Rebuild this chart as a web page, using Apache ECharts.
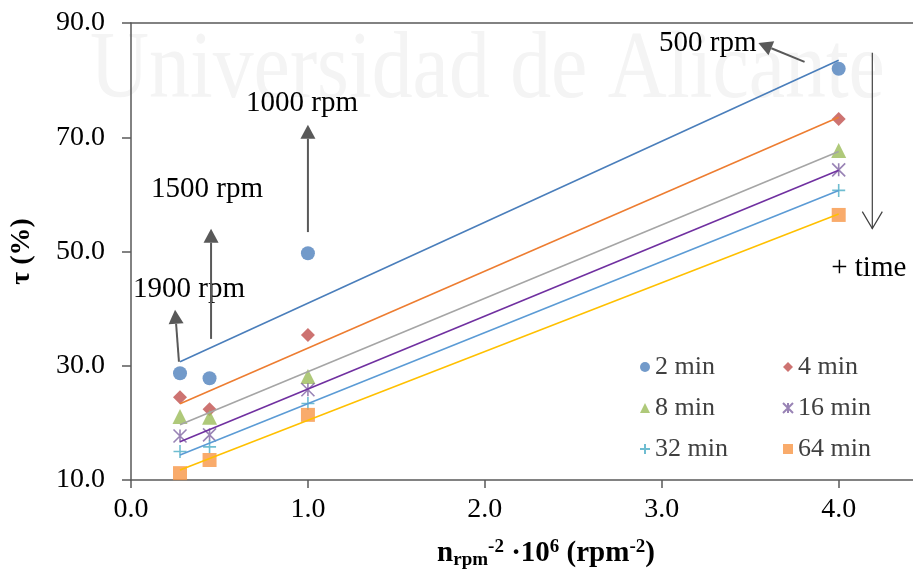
<!DOCTYPE html>
<html><head><meta charset="utf-8">
<script src="https://cdn.jsdelivr.net/npm/echarts@6/dist/echarts.min.js"></script>
<style>html,body{margin:0;padding:0;background:#fff}#c{width:913px;height:576px}</style>
</head><body><div id="c"></div>
<script>
// ---- data ----
const xValues = [0.277, 0.444, 1.0, 4.0];          // n^-2 * 1e6 for 1900, 1500, 1000, 500 rpm
const seriesNames = ['2 min', '4 min', '8 min', '16 min', '32 min', '64 min'];
const tau2  = [28.7, 27.8, 49.7, 82.0];
const tau4  = [24.5, 22.4, 35.4, 73.2];
const tau8  = [21.1, 21.0, 28.1, 67.7];
const tau16 = [17.7, 17.9, 25.8, 64.3];
const tau32 = [15.0, 15.8, 23.4, 60.7];
const tau64 = [11.2, 13.5, 21.4, 56.4];
const xTicks = [0, 1, 2, 3, 4];
const yTicks = [10, 30, 50, 70, 90];
const annotationTexts = ['500 rpm', '1000 rpm', '1500 rpm', '1900 rpm', '+ time'];

// ---- layout / styling (not data) ----
const allTau = [tau2, tau4, tau8, tau16, tau32, tau64];
const markerColors = ['#4F81BD', '#C0504D', '#9BBB59', '#8064A2', '#4BACC6', '#F79646'];
const lineColors = ['#4A7EBB', '#ED7D31', '#A5A5A5', '#7030A0', '#5B9BD5', '#FFC000'];
const symbols = ['circle', 'diamond', 'triangle',
  'path://M0,0L10,10M10,0L0,10M5,0L5,10',
  'path://M5,0L5,10M0,5L10,5',
  'rect'];
const symbolSizes = [14, 14, 15, 13, 13, 14];
const FONT = '"Liberation Serif", "Times New Roman", serif';
// annotation positions in data coordinates
const annotationPos = [[3.26, 86.5], [0.967, 76.0], [0.43, 60.8], [0.328, 43.3], [4.17, 47.1]];
const arrows = [
  [[3.807, 83.2], [3.546, 86.5]],
  [[1.0, 53.4], [1.0, 72.2]],
  [[0.4525, 34.7], [0.4525, 54.0]],
  [[0.271, 30.7], [0.249, 39.8]]
];
const timeArrow = [[4.19, 84.8], [4.19, 54.0]];

function linReg(xs, ys) {
  const n = xs.length;
  const mx = xs.reduce((a, b) => a + b, 0) / n;
  const my = ys.reduce((a, b) => a + b, 0) / n;
  let sxy = 0, sxx = 0;
  for (let i = 0; i < n; i++) { sxy += (xs[i] - mx) * (ys[i] - my); sxx += (xs[i] - mx) ** 2; }
  const b = sxy / sxx;
  return [b, my - b * mx];
}

const xMin = Math.min(...xValues), xMax = Math.max(...xValues);
const series = [];
allTau.forEach((ys, i) => {
  const isStroke = i === 3 || i === 4;
  series.push({
    name: seriesNames[i], type: 'scatter', z: 2,
    symbol: symbols[i], symbolSize: symbolSizes[i],
    itemStyle: isStroke ? { color: 'rgba(0,0,0,0)', borderColor: markerColors[i], borderWidth: 1.6 }
                        : { color: markerColors[i] },
    data: xValues.map((x, k) => [x, ys[k]])
  });
});
allTau.forEach((ys, i) => {
  const [b, a] = linReg(xValues, ys);
  series.push({
    name: 'trend ' + seriesNames[i], type: 'line', z: 3, silent: true,
    symbol: 'none', lineStyle: { color: lineColors[i], width: 1.6 },
    data: [[xMin, a + b * xMin], [xMax, a + b * xMax]]
  });
});

const chart = echarts.init(document.getElementById('c'), null, { renderer: 'canvas' });
const legendCommon = {
  orient: 'vertical', itemWidth: 10, itemHeight: 10, itemGap: 15,
  textStyle: { fontFamily: FONT, fontSize: 26, color: '#404040', lineHeight: 26 }
};
chart.setOption({
  backgroundColor: '#fff',
  animation: false,
  grid: { left: 131, right: 0, top: 23, bottom: 96, containLabel: false },
  legend: [
    Object.assign({ data: ['2 min', '8 min', '32 min'], left: 634, top: 349 }, legendCommon),
    Object.assign({ data: ['4 min', '16 min', '64 min'], left: 777, top: 349 }, legendCommon)
  ],
  xAxis: [{
    type: 'value', min: 0, max: 4.42,
    name: '{n|n}{sub|rpm}{sup|-2}{n| ·10}{sup|6}{n| (rpm}{sup|-2}{n|)}',
    nameLocation: 'middle', nameGap: 58,
    nameTextStyle: {
      padding: [0, 0, 0, 48],
      rich: {
        n: { fontFamily: FONT, fontWeight: 'bold', fontSize: 29, color: '#000', lineHeight: 32 },
        sub: { fontFamily: FONT, fontWeight: 'bold', fontSize: 19, color: '#000', lineHeight: 19, verticalAlign: 'bottom' },
        sup: { fontFamily: FONT, fontWeight: 'bold', fontSize: 19, color: '#000', lineHeight: 19, verticalAlign: 'top' }
      }
    },
    axisLine: { lineStyle: { color: '#595959', width: 1.5 } },
    axisTick: { show: true, length: 8, customValues: xTicks, lineStyle: { color: '#595959', width: 1.5 } },
    axisLabel: { customValues: xTicks, formatter: v => v.toFixed(1), fontFamily: FONT, fontSize: 28, color: '#000', margin: 16 },
    splitLine: { show: false }
  }, {
    type: 'value', position: 'top', min: 0, max: 4.42,
    axisLine: { show: true, lineStyle: { color: '#595959', width: 1.5 } },
    axisTick: { show: false }, axisLabel: { show: false }, splitLine: { show: false }
  }],
  yAxis: {
    type: 'value', min: 10, max: 90,
    name: 'τ (%)', nameLocation: 'middle', nameGap: 95, nameRotate: 90,
    nameTextStyle: { fontFamily: FONT, fontWeight: 'bold', fontSize: 28, color: '#000' },
    axisLine: { show: true, lineStyle: { color: '#595959', width: 1.5 } },
    axisTick: { show: true, length: 9, customValues: yTicks, lineStyle: { color: '#595959', width: 1.5 } },
    axisLabel: { customValues: yTicks, formatter: v => v.toFixed(1), fontFamily: FONT, fontSize: 28, color: '#000', margin: 26 },
    splitLine: { show: false }
  },
  series: series
});

// annotations positioned through the chart's scales
const px = p => chart.convertToPixel({ gridIndex: 0 }, p);
const graphics = [{
  type: 'text', z: -10, silent: true, x: 90, y: 24, scaleX: 0.852,
  style: { text: 'Universidad de Alicante', font: '96px ' + FONT, fill: '#F4F4F4', verticalAlign: 'top' }
}];
annotationTexts.forEach((t, i) => {
  const p = px(annotationPos[i]);
  graphics.push({ type: 'text', z: 10, x: p[0], y: p[1],
    style: { text: t, font: '29px ' + FONT, fill: '#000', align: 'center', verticalAlign: 'middle' } });
});
arrows.forEach(([s, e]) => {
  const a = px(s), b = px(e);
  const dx = b[0] - a[0], dy = b[1] - a[1];
  const L = Math.hypot(dx, dy), ux = dx / L, uy = dy / L;
  const hl = 14, hw = 7.5;
  const bx = b[0] - ux * hl, by = b[1] - uy * hl;
  graphics.push({ type: 'line', z: 10, shape: { x1: a[0], y1: a[1], x2: bx, y2: by },
    style: { stroke: '#595959', lineWidth: 2 } });
  graphics.push({ type: 'polygon', z: 10, shape: { points: [[b[0], b[1]], [bx - uy * hw, by + ux * hw], [bx + uy * hw, by - ux * hw]] },
    style: { fill: '#595959' } });
});
{
  const a = px(timeArrow[0]), b = px(timeArrow[1]);
  graphics.push({ type: 'line', z: 10, shape: { x1: a[0], y1: a[1], x2: b[0], y2: b[1] },
    style: { stroke: '#404040', lineWidth: 1.2 } });
  graphics.push({ type: 'polyline', z: 10, shape: { points: [[b[0] - 10, b[1] - 17], [b[0], b[1]], [b[0] + 10, b[1] - 17]] },
    style: { stroke: '#404040', lineWidth: 1.2, fill: null } });
}
chart.setOption({ graphic: graphics });
</script>
</body></html>
